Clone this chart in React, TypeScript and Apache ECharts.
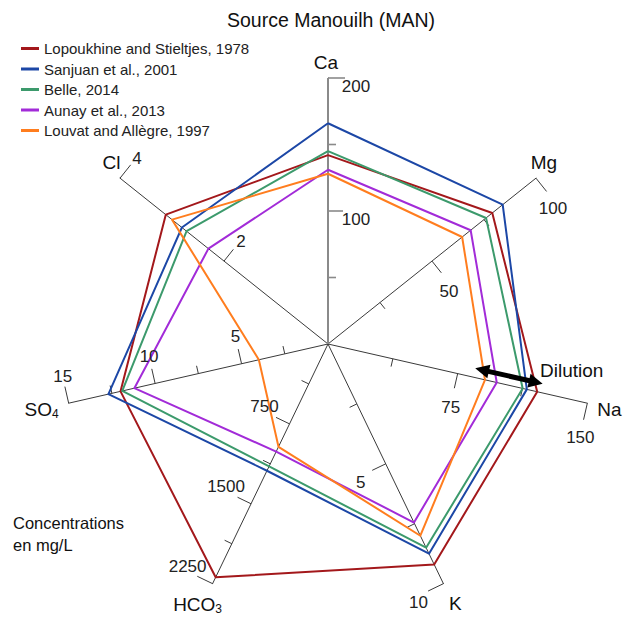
import React, { useEffect, useRef } from "react";
import * as echarts from "echarts";

// ---------- data ----------
const titleText = "Source Manouilh (MAN)";
// axes in clockwise order starting at the top
const axisNames = ["Ca", "Mg", "Na", "K", "HCO3", "SO4", "Cl"];
const axisMax = [200, 100, 150, 10, 2250, 15, 4];
const majorTicks = [[100], [50], [75], [5], [750, 1500], [5, 10], [2]];
const minorTicks = [[50, 150], [25, 75], [37.5, 112.5], [2.5, 7.5], [375, 1125, 1875], [2.5, 7.5, 12.5], []];

const seriesNames = [
  "Lopoukhine and Stieltjes, 1978",
  "Sanjuan et al., 2001",
  "Belle, 2014",
  "Aunay et al., 2013",
  "Louvat and Allègre, 1997",
];
const lopoukhine = [142, 79, 121, 9.2, 2190, 12.0, 3.12];
const sanjuan = [166, 84, 115, 8.75, 1190, 12.7, 2.81];
const belle = [145, 76, 112.6, 8.5, 1148, 11.9, 2.72];
const aunay = [131, 68.6, 97.6, 7.45, 1010, 11.2, 2.3];
const louvat = [128, 64.5, 90.8, 8.0, 965, 4.0, 3.0];
const dilutionNa = [84, 123];

// ---------- style ----------
const seriesColors = ["#a3181b", "#1c47a6", "#3c9a6c", "#a22bd8", "#ff7d1e"];
const FONT = "'Liberation Sans', Arial, Helvetica, sans-serif";
const CX = 328, CY = 344, R = 266;
const labelOffset = [[28, 8], [17, 30], [-7, 34], [-25, 19], [-25, -17], [-6, -27], [17, -20]];
const nameOffset = [[-2, -16], [8, -16], [22, 6], [12, 19.5], [-15, 20.5], [-27, 6], [-8.5, -16]];

const N = axisNames.length;
function dirOf(i: number): [number, number] {
  const a = ((90 - (i * 360) / N) * Math.PI) / 180;
  return [Math.cos(a), -Math.sin(a)];
}
function pt(i: number, v: number): [number, number] {
  const [dx, dy] = dirOf(i);
  const r = (R * v) / axisMax[i];
  return [CX + dx * r, CY + dy * r];
}
function tickDir(i: number): [number, number] {
  const [dx, dy] = dirOf(i);
  return [-dy, dx];
}

function nameText(n: string) {
  const m = n.match(/^([A-Za-z]+?)(\d+)$/);
  if (m) return m[1] + "{s|" + m[2] + "}";
  return n;
}

export default function App() {
  const ref = useRef<HTMLDivElement>(null);
  useEffect(() => {
    document.body.style.margin = "0";
    if (!ref.current) return;
    const chart = echarts.init(ref.current, undefined, { renderer: "svg" });
    // ECharts radar runs counter-clockwise: reorder indicators
    const ecOrder = [0, ...Array.from({ length: N - 1 }, (_, k) => N - 1 - k)];
    const allValues = [lopoukhine, sanjuan, belle, aunay, louvat];

    const graphics: any[] = [];
    for (let i = 0; i < N; i++) {
      const isCa = i === 0;
      const col = isCa ? "#8a8a8a" : "#3a3a3a";
      const td = tickDir(i);
      if (isCa) {
        const e = pt(i, axisMax[i]);
        graphics.push({ type: "line", z: 1, shape: { x1: CX, y1: CY, x2: e[0], y2: e[1] }, style: { stroke: col, lineWidth: 2 } });
      }
      const addTick = (v: number, len: number) => {
        const p = pt(i, v);
        graphics.push({
          type: "line", z: 1,
          shape: { x1: p[0], y1: p[1], x2: p[0] + td[0] * len, y2: p[1] + td[1] * len },
          style: { stroke: col, lineWidth: isCa ? 1.6 : 1 },
        });
      };
      minorTicks[i].forEach((v) => addTick(v, 8));
      majorTicks[i].forEach((v) => addTick(v, 15));
      addTick(axisMax[i], 17);
      [...majorTicks[i], axisMax[i]].forEach((v) => {
        const p = pt(i, v);
        graphics.push({
          type: "text", z: 10,
          x: p[0] + labelOffset[i][0], y: p[1] + labelOffset[i][1],
          style: { text: String(v), font: `17px ${FONT}`, fill: "#222", align: "center", verticalAlign: "middle" },
        });
      });
      const e = pt(i, axisMax[i]);
      graphics.push({
        type: "text", z: 10,
        x: e[0] + nameOffset[i][0], y: e[1] + nameOffset[i][1],
        style: {
          text: nameText(axisNames[i]), fontSize: 19, fontFamily: FONT, fill: "#111",
          align: "center", verticalAlign: "middle",
          rich: { s: { fontSize: 12, fontFamily: FONT, fill: "#111", padding: [10, 0, 0, 0] } },
        },
      });
    }
    // dilution arrow along the Na axis
    const naIdx = 2;
    const nd = dirOf(naIdx);
    const ntd = tickDir(naIdx);
    const off = -9;
    const a0 = pt(naIdx, dilutionNa[0]);
    const a1 = pt(naIdx, dilutionNa[1]);
    const s0: [number, number] = [a0[0] + ntd[0] * off, a0[1] + ntd[1] * off];
    const s1: [number, number] = [a1[0] + ntd[0] * off, a1[1] + ntd[1] * off];
    const headL = 14, headW = 7;
    const head = (tip: [number, number], sgn: number) => {
      const bx = tip[0] + sgn * nd[0] * headL, by = tip[1] + sgn * nd[1] * headL;
      return [tip, [bx + ntd[0] * headW, by + ntd[1] * headW], [bx - ntd[0] * headW, by - ntd[1] * headW]];
    };
    graphics.push({
      type: "line", z: 20,
      shape: { x1: s0[0] + nd[0] * 10, y1: s0[1] + nd[1] * 10, x2: s1[0] - nd[0] * 10, y2: s1[1] - nd[1] * 10 },
      style: { stroke: "#000", lineWidth: 5 },
    });
    graphics.push({ type: "polygon", z: 20, shape: { points: head(s0, 1) }, style: { fill: "#000" } });
    graphics.push({ type: "polygon", z: 20, shape: { points: head(s1, -1) }, style: { fill: "#000" } });
    graphics.push({
      type: "text", z: 20, x: 571.7, y: 370,
      style: { text: "Dilution", font: `19px ${FONT}`, fill: "#111", align: "center", verticalAlign: "middle" },
    });
    graphics.push({
      type: "text", z: 20, left: 13, top: 512,
      style: { text: "Concentrations\nen mg/L", font: `16.5px ${FONT}`, fill: "#111", lineHeight: 22 },
    });

    chart.setOption({
      animation: false,
      title: {
        text: titleText, left: 326, top: 5, textAlign: "center",
        textStyle: { fontSize: 19.5, fontWeight: "normal", fontFamily: FONT, color: "#111" },
      },
      legend: {
        orient: "vertical", left: 16, top: 36, itemWidth: 18, itemHeight: 3, itemGap: 5.5, icon: "rect",
        textStyle: { fontSize: 15, fontFamily: FONT, color: "#222" },
        data: seriesNames,
      },
      radar: {
        center: [CX, CY], radius: R, startAngle: 90, shape: "polygon", splitNumber: 1,
        indicator: ecOrder.map((i) => ({ name: axisNames[i], min: 0, max: axisMax[i] })),
        axisName: { show: false },
        splitLine: { show: false }, splitArea: { show: false },
        axisLine: { lineStyle: { color: "#3a3a3a", width: 1 } },
        axisTick: { show: false }, axisLabel: { show: false },
      },
      graphic: graphics,
      series: [
        {
          type: "radar", symbol: "none", z: 5,
          data: seriesNames.map((n, k) => ({
            name: n,
            value: ecOrder.map((i) => allValues[k][i]),
            lineStyle: { color: seriesColors[k], width: 2 },
            itemStyle: { color: seriesColors[k] },
          })),
        },
      ],
    });
    return () => chart.dispose();
  }, []);
  return <div ref={ref} style={{ width: 624, height: 617 }} />;
}
